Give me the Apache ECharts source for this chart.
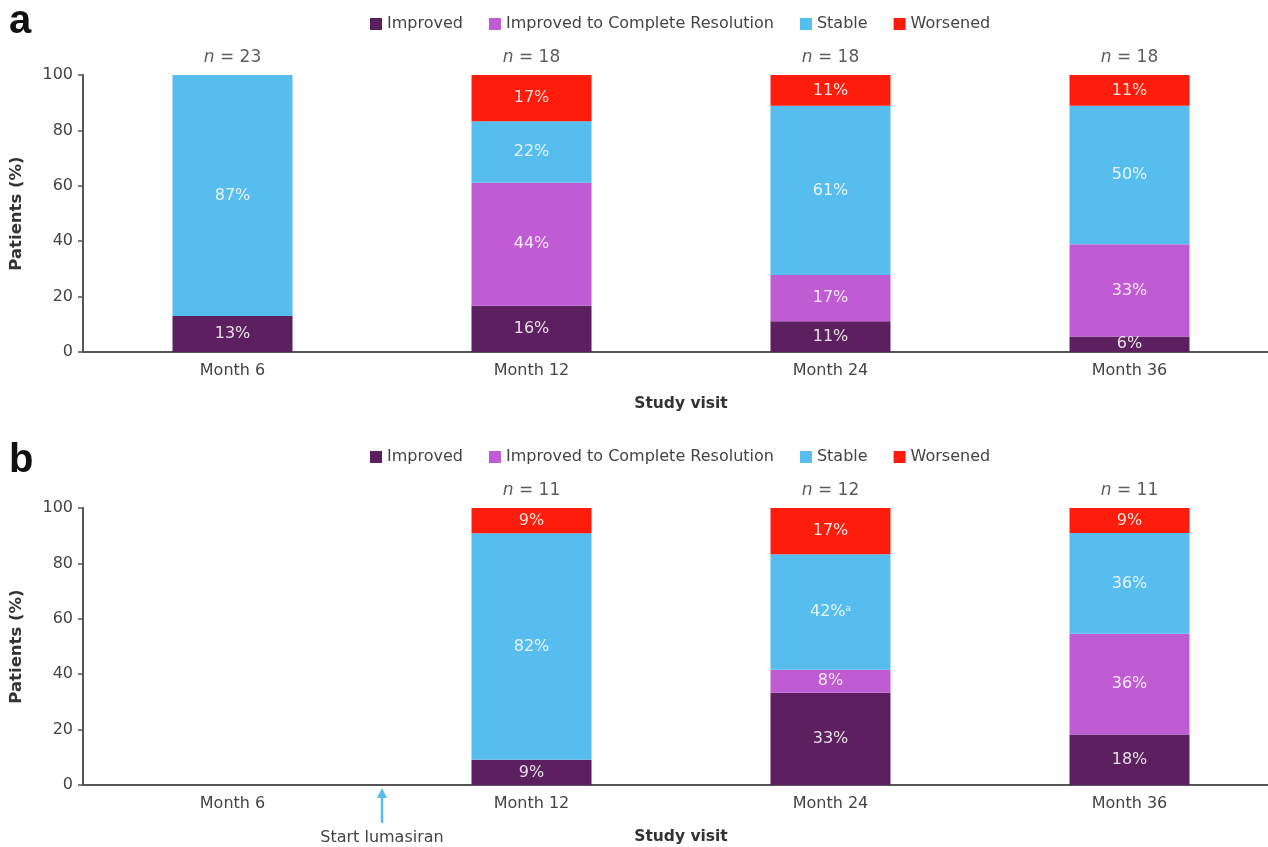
<!DOCTYPE html>
<html>
<head>
<meta charset="utf-8">
<script src="https://cdn.jsdelivr.net/npm/echarts@6/dist/echarts.min.js"></script>
<style>
  html, body { margin: 0; padding: 0; background: #fff; }
  #chart { width: 1268px; height: 847px; }
</style>
</head>
<body>
<div id="chart"></div>
<script>
// data
const categories = ['Month 6', 'Month 12', 'Month 24', 'Month 36'];
const seriesNames = ['Improved', 'Improved to Complete Resolution', 'Stable', 'Worsened'];
const colors = ['#5c1f5f', '#bf5cd4', '#57bdef', '#fe1d0c'];

// panel a
const aImproved = [13.0, 16.7, 11.1, 5.6];
const aComplete = [null, 44.4, 16.7, 33.3];
const aStable = [87.0, 22.2, 61.1, 50.0];
const aWorsened = [null, 16.7, 11.1, 11.1];
const aLabels = [
  ['13%', '16%', '11%', '6%'],
  [null, '44%', '17%', '33%'],
  ['87%', '22%', '61%', '50%'],
  [null, '17%', '11%', '11%']
];
const aN = [23, 18, 18, 18];

// panel b
const bImproved = [null, 9.1, 33.3, 18.2];
const bComplete = [null, null, 8.3, 36.4];
const bStable = [null, 81.8, 41.7, 36.4];
const bWorsened = [null, 9.1, 16.7, 9.1];
const bLabels = [
  [null, '9%', '33%', '18%'],
  [null, null, '8%', '36%'],
  [null, '82%', '42%{sup|a}', '36%'],
  [null, '9%', '17%', '9%']
];
const bN = [null, 11, 12, 11];

const font = '"DejaVu Sans", sans-serif';
const axisGray = '#555';
const textGray = '#444';

const grids = [
  { left: 83, right: -11, top: 75, height: 277, outerBoundsMode: 'none' },
  { left: 83, right: -11, top: 508, height: 277, outerBoundsMode: 'none' }
];

function xAxis(i) {
  return {
    type: 'category', gridIndex: i, data: categories,
    axisLine: { lineStyle: { color: axisGray, width: 2 } },
    axisTick: { show: false },
    axisLabel: { color: textGray, fontSize: 16, fontFamily: font, margin: 11 },
    name: 'Study visit', nameLocation: 'middle', nameGap: 44,
    nameTextStyle: { color: '#333', fontSize: 15.5, fontWeight: 'bold', fontFamily: font }
  };
}
function yAxis(i) {
  return {
    type: 'value', gridIndex: i, min: 0, max: 100, interval: 20,
    splitLine: { show: false },
    axisLine: { show: true, lineStyle: { color: axisGray, width: 2 } },
    axisTick: { show: true, length: 5, lineStyle: { color: axisGray, width: 1.5 } },
    axisLabel: { color: textGray, fontSize: 16, fontFamily: font, margin: 10 },
    name: 'Patients (%)', nameLocation: 'middle', nameGap: 58,
    nameTextStyle: { color: '#333', fontSize: 16.5, fontWeight: 'bold', fontFamily: font }
  };
}

function barSeries(i, k, values, labels) {
  return {
    type: 'bar', name: seriesNames[k], stack: 'p' + i,
    xAxisIndex: i, yAxisIndex: i, barWidth: 120,
    itemStyle: { color: colors[k] },
    data: values,
    label: {
      show: true, position: 'inside',
      color: 'rgba(255,255,255,0.85)', fontSize: 16, fontFamily: font,
      formatter: p => labels[k][p.dataIndex] || '',
      rich: { sup: { fontSize: 9, verticalAlign: 'top', color: 'rgba(255,255,255,0.85)', padding: [0, 0, 7, 0] } }
    }
  };
}

function nSeries(i, ns) {
  return {
    type: 'scatter', xAxisIndex: i, yAxisIndex: i,
    symbolSize: 1, itemStyle: { color: 'rgba(0,0,0,0)' },
    silent: true,
    data: ns.map(n => n == null ? null : 100),
    label: {
      show: true, position: 'top', distance: 8,
      formatter: p => '{i|n} = ' + ns[p.dataIndex],
      color: '#333', fontSize: 17, fontFamily: font,
      rich: { i: { fontStyle: 'italic', fontSize: 17, color: '#333', fontFamily: font } }
    }
  };
}

function legend(top) {
  return {
    left: 365, top: top, itemWidth: 12, itemHeight: 12, itemGap: 26,
    icon: 'rect', data: seriesNames,
    textStyle: { color: textGray, fontSize: 16, fontFamily: font },
    selectedMode: false
  };
}

const aVals = [aImproved, aComplete, aStable, aWorsened];
const bVals = [bImproved, bComplete, bStable, bWorsened];

const series = [];
aVals.forEach((v, k) => series.push(barSeries(0, k, v, aLabels)));
bVals.forEach((v, k) => series.push(barSeries(1, k, v, bLabels)));
series.push(nSeries(0, aN));
series.push(nSeries(1, bN));

const chart = echarts.init(document.getElementById('chart'));
chart.setOption({
  animation: false,
  backgroundColor: '#fff',
  grid: grids,
  xAxis: [xAxis(0), xAxis(1)],
  yAxis: [yAxis(0), yAxis(1)],
  legend: [legend(11), legend(444)],
  series: series,
  graphic: [
    { id: 'lblA', type: 'text', x: 9, y: 22, style: { text: 'a', fontSize: 40, fontWeight: 'bold', fill: '#111', fontFamily: '"Liberation Sans", Arial, sans-serif', verticalAlign: 'middle' } },
    { id: 'lblB', type: 'text', x: 9, y: 461, style: { text: 'b', fontSize: 40, fontWeight: 'bold', fill: '#111', fontFamily: '"Liberation Sans", Arial, sans-serif', verticalAlign: 'middle' } }
  ]
});

// "Start lumasiran" arrow, between Month 6 and Month 12 of panel b
const p6 = chart.convertToPixel({ xAxisIndex: 1 }, 'Month 6');
const p12 = chart.convertToPixel({ xAxisIndex: 1 }, 'Month 12');
const axisY = chart.convertToPixel({ yAxisIndex: 1 }, 0);
const ax = (p6 + p12) / 2;
chart.setOption({
  graphic: [
    { id: 'arrowLine', type: 'line', shape: { x1: ax, y1: axisY + 38, x2: ax, y2: axisY + 12 }, style: { stroke: '#57bdef', lineWidth: 2.5 } },
    { id: 'arrowHead', type: 'polygon', shape: { points: [[ax - 5, axisY + 13], [ax + 5, axisY + 13], [ax, axisY + 3]] }, style: { fill: '#57bdef' } },
    { id: 'arrowText', type: 'text', x: ax, y: axisY + 53, style: { text: 'Start lumasiran', align: 'center', verticalAlign: 'middle', fontSize: 16, fill: textGray, fontFamily: font } }
  ]
});
</script>
</body>
</html>
